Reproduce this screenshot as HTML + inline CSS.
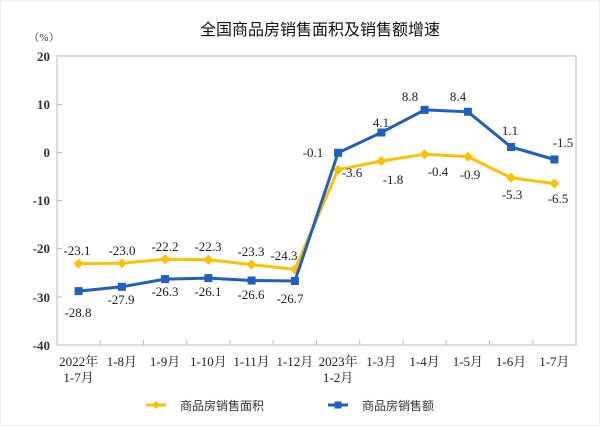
<!DOCTYPE html>
<html><head><meta charset="utf-8"><style>
html,body{margin:0;padding:0;background:#fff;}
svg{display:block;}
.n{font-family:"Liberation Serif",serif;font-size:13px;fill:#222;text-anchor:middle;}
.ax{font-family:"Liberation Serif","Noto Serif CJK SC",serif;font-size:13px;fill:#222;text-anchor:middle;}
.yl{font-family:"Liberation Serif",serif;font-size:13px;font-weight:bold;fill:#333;text-anchor:end;}
</style></head><body>
<svg width="600" height="426" viewBox="0 0 600 426" xmlns="http://www.w3.org/2000/svg">
<rect x="0.5" y="0.5" width="599" height="425" fill="#fff" stroke="#eee"/>
<text x="320" y="35" font-family="'Noto Sans CJK SC',sans-serif" font-size="16" fill="#111" text-anchor="middle">全国商品房销售面积及销售额增速</text>
<text x="44" y="41" font-family="'Liberation Serif','Noto Serif CJK SC',serif" font-size="11" fill="#333" text-anchor="middle">（%）</text>
<rect x="57" y="56" width="519" height="289" fill="none" stroke="#d0d0d0" stroke-width="1.5"/>
<g stroke="#bbb" stroke-width="1">
<line x1="57" y1="104.5" x2="62" y2="104.5"/><line x1="57" y1="152.5" x2="62" y2="152.5"/><line x1="57" y1="200.5" x2="62" y2="200.5"/><line x1="57" y1="248.5" x2="62" y2="248.5"/><line x1="57" y1="297" x2="62" y2="297"/>
<line x1="100.2" y1="340" x2="100.2" y2="345"/><line x1="143.5" y1="340" x2="143.5" y2="345"/><line x1="186.7" y1="340" x2="186.7" y2="345"/><line x1="230" y1="340" x2="230" y2="345"/><line x1="273.2" y1="340" x2="273.2" y2="345"/><line x1="316.5" y1="340" x2="316.5" y2="345"/><line x1="359.7" y1="340" x2="359.7" y2="345"/><line x1="403" y1="340" x2="403" y2="345"/><line x1="446.2" y1="340" x2="446.2" y2="345"/><line x1="489.5" y1="340" x2="489.5" y2="345"/><line x1="532.7" y1="340" x2="532.7" y2="345"/>
</g>
<text class="yl" x="50" y="61">20</text><text class="yl" x="50" y="109">10</text><text class="yl" x="50" y="157">0</text><text class="yl" x="50" y="205">-10</text><text class="yl" x="50" y="253">-20</text><text class="yl" x="50" y="302">-30</text><text class="yl" x="50" y="350">-40</text>
<g class="ax">
<text x="78.6" y="366">2022年</text><text x="78.6" y="382">1-7月</text>
<text x="121.9" y="366">1-8月</text><text x="165.1" y="366">1-9月</text><text x="208.4" y="366">1-10月</text><text x="251.6" y="366">1-11月</text><text x="294.9" y="366">1-12月</text>
<text x="338.1" y="366">2023年</text><text x="338.1" y="382">1-2月</text>
<text x="381.4" y="366">1-3月</text><text x="424.6" y="366">1-4月</text><text x="467.9" y="366">1-5月</text><text x="511.1" y="366">1-6月</text><text x="554.4" y="366">1-7月</text>
</g>
<polyline fill="none" stroke="#FFC000" stroke-width="3" points="78.6,263.6 121.9,263.2 165.1,259.3 208.4,259.8 251.6,264.6 294.9,269.4 338.1,169.7 381.4,161 424.6,154.2 467.9,156.6 511.1,177.8 554.4,183.6"/>
<g fill="#FFC000">
<path d="M78.6,258.6l5,5-5,5-5-5z"/><path d="M121.9,258.2l5,5-5,5-5-5z"/><path d="M165.1,254.3l5,5-5,5-5-5z"/><path d="M208.4,254.8l5,5-5,5-5-5z"/><path d="M251.6,259.6l5,5-5,5-5-5z"/><path d="M294.9,264.4l5,5-5,5-5-5z"/><path d="M338.1,164.7l5,5-5,5-5-5z"/><path d="M381.4,156l5,5-5,5-5-5z"/><path d="M424.6,149.2l5,5-5,5-5-5z"/><path d="M467.9,151.6l5,5-5,5-5-5z"/><path d="M511.1,172.8l5,5-5,5-5-5z"/><path d="M554.4,178.6l5,5-5,5-5-5z"/>
</g>
<polyline fill="none" stroke="#1F5FC0" stroke-width="3" points="78.6,291.1 121.9,286.8 165.1,279.1 208.4,278.1 251.6,280.5 294.9,281 338.1,152.8 381.4,132.5 424.6,109.9 467.9,111.8 511.1,147 554.4,159.5"/>
<g fill="#1F5FC0">
<rect x="74.6" y="287.1" width="8" height="8"/><rect x="117.9" y="282.8" width="8" height="8"/><rect x="161.1" y="275.1" width="8" height="8"/><rect x="204.4" y="274.1" width="8" height="8"/><rect x="247.6" y="276.5" width="8" height="8"/><rect x="290.9" y="277" width="8" height="8"/><rect x="334.1" y="148.8" width="8" height="8"/><rect x="377.4" y="128.5" width="8" height="8"/><rect x="420.6" y="105.9" width="8" height="8"/><rect x="463.9" y="107.8" width="8" height="8"/><rect x="507.1" y="143" width="8" height="8"/><rect x="550.4" y="155.5" width="8" height="8"/>
</g>
<g class="n">
<text x="77" y="255">-23.1</text><text x="122" y="255">-23.0</text><text x="165" y="251">-22.2</text><text x="208" y="251">-22.3</text><text x="251" y="256">-23.3</text><text x="284" y="260">-24.3</text>
<text x="78" y="317">-28.8</text><text x="121" y="304">-27.9</text><text x="165" y="296">-26.3</text><text x="208" y="296">-26.1</text><text x="251" y="299">-26.6</text><text x="290" y="303">-26.7</text>
<text x="313" y="157">-0.1</text><text x="352" y="177">-3.6</text><text x="381" y="127">4.1</text><text x="393" y="184">-1.8</text><text x="410" y="101">8.8</text><text x="438" y="176">-0.4</text><text x="458" y="101">8.4</text><text x="470" y="179">-0.9</text><text x="510" y="135">1.1</text><text x="512" y="199">-5.3</text><text x="563" y="147">-1.5</text><text x="558" y="203">-6.5</text>
</g>
<line x1="146" y1="405" x2="166" y2="405" stroke="#FFC000" stroke-width="3"/><path d="M156,401l4,4-4,4-4-4z" fill="#FFC000"/>
<text x="180" y="410" font-family="'Noto Sans CJK SC',sans-serif" font-size="12" fill="#333">商品房销售面积</text>
<line x1="328" y1="405" x2="348" y2="405" stroke="#1F5FC0" stroke-width="3"/><rect x="334.5" y="401.5" width="7" height="7" fill="#1F5FC0"/>
<text x="362" y="410" font-family="'Noto Sans CJK SC',sans-serif" font-size="12" fill="#333">商品房销售额</text>
</svg>
</body></html>
